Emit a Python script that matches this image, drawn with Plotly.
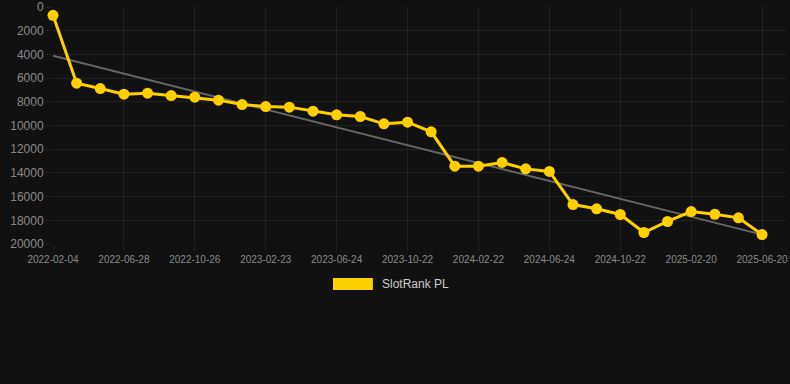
import numpy as np
import plotly.graph_objects as go

dates = [
    "2022-02-04", "2022-03-22", "2022-05-09", "2022-06-28", "2022-08-07", "2022-09-16",
    "2022-10-26", "2022-12-05", "2023-01-14", "2023-02-23", "2023-04-04", "2023-05-14",
    "2023-06-24", "2023-08-03", "2023-09-12", "2023-10-22", "2023-12-01", "2024-01-12",
    "2024-02-22", "2024-04-02", "2024-05-14", "2024-06-24", "2024-08-03", "2024-09-12",
    "2024-10-22", "2024-12-01", "2025-01-10", "2025-02-20", "2025-04-01", "2025-05-11",
    "2025-06-20",
]
ranks = [
    700, 6430, 6880, 7360, 7270, 7470, 7610, 7860, 8230, 8400, 8450, 8790,
    9100, 9240, 9860, 9720, 10530, 13430, 13430, 13120, 13660, 13880, 16670, 17030,
    17510, 19030, 18100, 17260, 17490, 17790, 19200,
]
tick_labels = dates[::3]
y_ticks = [0, 2000, 4000, 6000, 8000, 10000, 12000, 14000, 16000, 18000, 20000]
series_name = "SlotRank PL"

YELLOW = "#FFD000"
FONT = "Liberation Sans, Arial, Helvetica, sans-serif"
GRID = "rgba(255,255,255,0.07)"

idx = np.arange(len(ranks))
slope, intercept = np.polyfit(idx, ranks, 1)
trend = [intercept + slope * i for i in (idx[0], idx[-1])]

fig = go.Figure()
fig.add_trace(go.Scatter(
    x=[dates[0], dates[-1]], y=trend, mode="lines",
    line=dict(color="#666666", width=2), showlegend=False, hoverinfo="skip",
))
fig.add_trace(go.Scatter(
    x=dates, y=ranks, mode="lines+markers", name=series_name,
    line=dict(color=YELLOW, width=3),
    marker=dict(color=YELLOW, size=11),
    cliponaxis=False, showlegend=False,
))

# custom legend
fig.add_shape(type="rect", xref="paper", yref="paper",
              x0=0.3825, x1=0.437, y0=-0.194, y1=-0.143,
              fillcolor=YELLOW, line=dict(width=0))
fig.add_annotation(xref="paper", yref="paper", x=0.4467, y=-0.169,
                   text=series_name, showarrow=False, xanchor="left", yanchor="middle",
                   font=dict(family=FONT, size=12, color="#cccccc"))

fig.update_layout(
    width=790, height=384,
    margin=dict(l=53, r=5, t=7, b=140, autoexpand=False),
    paper_bgcolor="#111111", plot_bgcolor="#111111",
    font=dict(family=FONT, color="#8a8a8a"),
    showlegend=False,
)
fig.update_xaxes(
    type="category", categoryorder="array", categoryarray=dates,
    range=[0, 30.97], automargin=False,
    tickmode="array", tickvals=tick_labels, ticktext=tick_labels,
    tickfont=dict(size=10, color="#8a8a8a"),
    showgrid=True, gridcolor=GRID, gridwidth=1,
    ticks="outside", ticklen=6, tickcolor=GRID,
    zeroline=False, showline=False,
)
fig.update_yaxes(
    range=[20000, 0], automargin=False,
    tickmode="array", tickvals=y_ticks, ticktext=[str(v) for v in y_ticks],
    tickfont=dict(size=12, color="#8a8a8a"),
    showgrid=True, gridcolor=GRID, gridwidth=1,
    ticks="outside", ticklen=6, tickcolor=GRID,
    zeroline=False, showline=False,
)

fig.write_html(
    "out.html",
    config={"displayModeBar": False},
    post_script="document.body.style.margin='0';document.body.style.background='#111111';",
)
